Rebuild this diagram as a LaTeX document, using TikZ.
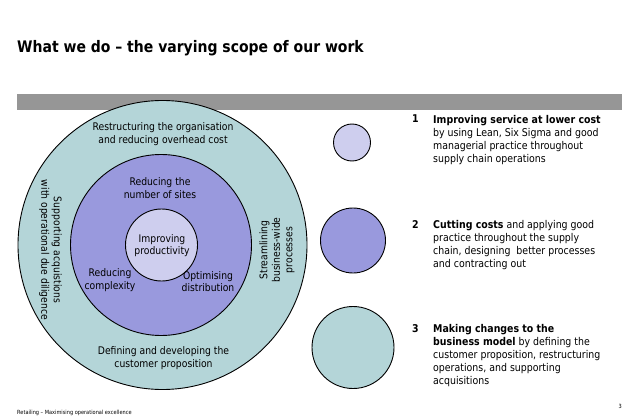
\documentclass[tikz,border=0pt]{standalone}
\usepackage{fontspec}
\setmainfont{DejaVu Sans}[FakeStretch=0.88]
\definecolor{outerc}{RGB}{180,213,216}
\definecolor{midc}{RGB}{153,153,221}
\definecolor{innerc}{RGB}{206,206,238}
\definecolor{barc}{RGB}{150,150,150}
\begin{document}
\begin{tikzpicture}[x=1pt,y=-1pt,
  ring/.style={circle,draw=black,line width=0.9pt,inner sep=0pt},
  ctext/.style={align=center,inner sep=0pt,font=\fontsize{10.5}{12.5}\selectfont},
  rtext/.style={align=left,anchor=north west,inner sep=0pt,font=\fontsize{10.7}{13}\selectfont},
  num/.style={anchor=north west,inner sep=0pt,font=\bfseries\fontsize{10.7}{13}\selectfont}]
\useasboundingbox[fill=white] (0,0) rectangle (638,420);
% title and bar
\node[anchor=base west,inner sep=0pt,font=\bfseries\fontsize{15.9}{18}\selectfont] (title) at (17,53) {What we do – the varying scope of our work};
\node[fill=barc,inner sep=0pt,minimum width=605,minimum height=16,anchor=north west] (bar) at (17,94) {};
% nested circles
\node[ring,fill=outerc,minimum size=289] (outer) at (162.5,245) {};
\node[ring,fill=midc,minimum size=181] (mid) at (161,245) {};
\node[ring,fill=innerc,minimum size=72] (inner) at (161.5,245) {};
% circle texts
\node[ctext] (t1) at (163,134) {Restructuring the organisation\\and reducing overhead cost};
\node[ctext] (t2) at (160,188) {Reducing the\\number of sites};
\node[ctext] (t3) at (162,245.5) {Improving\\productivity};
\node[ctext] (t4) at (110,280) {Reducing\\complexity};
\node[ctext] (t5) at (208,281.5) {Optimising\\distribution};
\node[ctext] (t6) at (163.5,358) {Defining and developing the\\customer proposition};
\node[ctext,rotate=-90] (t7) at (50.5,250) {Supporting acquistions\\with operational due diligence};
\node[ctext,rotate=90] (t8) at (277,250) {Streamlining\\business-wide\\processes};
% legend circles
\node[ring,fill=innerc,minimum size=37] (c1) at (352,142.5) {};
\node[ring,fill=midc,minimum size=65] (c2) at (353,240.5) {};
\node[ring,fill=outerc,minimum size=82] (c3) at (353,347.5) {};
% legend texts
\node[num] (n1) at (412,115) {1};
\node[rtext] (l1) at (433,115) {\textbf{Improving service at lower cost}\\by using Lean, Six Sigma and good\\managerial practice throughout\\supply chain operations};
\node[num] (n2) at (412,220.5) {2};
\node[rtext] (l2) at (433,220.5) {\textbf{Cutting costs} and applying good\\practice throughout the supply\\chain, designing\ \ better processes\\and contracting out};
\node[num] (n3) at (412,324.5) {3};
\node[rtext] (l3) at (433,324.5) {\textbf{Making changes to the}\\\textbf{business model} by defining the\\customer proposition, restructuring\\operations, and supporting\\acquisitions};
% footer
\node[anchor=base west,inner sep=0pt,font=\fontsize{5.7}{6}\selectfont] (foot) at (17,414) {Retailing – Maximising operational excellence};
\node[anchor=base east,inner sep=0pt,font=\fontsize{5.7}{6}\selectfont] (page) at (622,408) {3};
\end{tikzpicture}
\end{document}
